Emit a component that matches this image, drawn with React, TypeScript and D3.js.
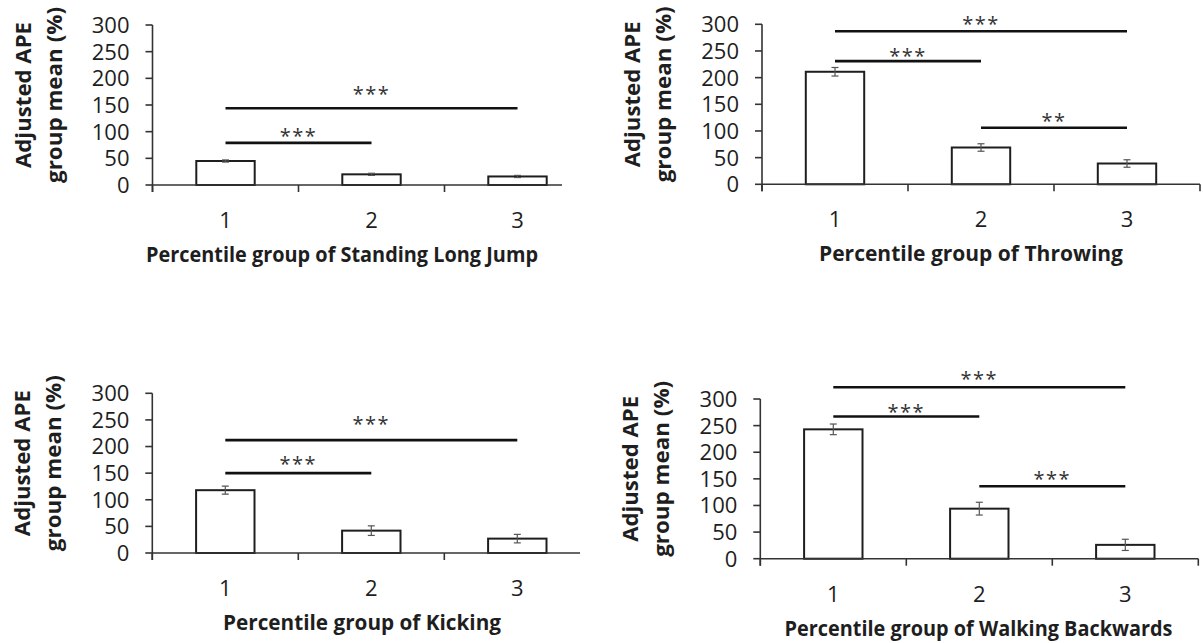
import React from "react"
import * as d3 from "d3"

const groups = ["1", "2", "3"]
const yTicks = [0, 50, 100, 150, 200, 250, 300]

const jumpMeans = [45, 20, 16]
const jumpErrors = [2, 2, 2]
const throwMeans = [211, 69, 39]
const throwErrors = [8, 7, 7]
const kickMeans = [118, 42, 27]
const kickErrors = [7.5, 9, 8]
const walkMeans = [243, 94, 26]
const walkErrors = [10, 12, 10.5]

// brackets: from / to group, level of the line and of its stars (in %)
const jumpSig = [
  { from: "1", to: "2", at: 79, labelAt: 99, stars: "***" },
  { from: "1", to: "3", at: 144, labelAt: 178, stars: "***" },
]
const throwSig = [
  { from: "1", to: "3", at: 287, labelAt: 309, stars: "***" },
  { from: "1", to: "2", at: 231, labelAt: 248, stars: "***" },
  { from: "2", to: "3", at: 106, labelAt: 126, stars: "**" },
]
const kickSig = [
  { from: "1", to: "3", at: 212, labelAt: 250, stars: "***" },
  { from: "1", to: "2", at: 150, labelAt: 174, stars: "***" },
]
const walkSig = [
  { from: "1", to: "3", at: 322, labelAt: 345, stars: "***" },
  { from: "1", to: "2", at: 267, labelAt: 283, stars: "***" },
  { from: "2", to: "3", at: 136, labelAt: 158, stars: "***" },
]

const FONT = "'Open Sans', 'DejaVu Sans', sans-serif"
const INK = "#1e1e1e"

const panels = [
  {
    title: "Percentile group of Standing Long Jump",
    means: jumpMeans, errors: jumpErrors, sig: jumpSig,
    x0: 152.5, yTop: 25, yBottom: 185, clipRight: 562,
    titleX: 342, titleW: 392,
  },
  {
    title: "Percentile group of Throwing",
    means: throwMeans, errors: throwErrors, sig: throwSig,
    x0: 762, yTop: 24.3, yBottom: 184.3, clipRight: 1203,
    titleX: 971, titleW: 304,
  },
  {
    title: "Percentile group of Kicking",
    means: kickMeans, errors: kickErrors, sig: kickSig,
    x0: 152.3, yTop: 393.3, yBottom: 553, clipRight: 580,
    titleX: 362, titleW: 278,
  },
  {
    title: "Percentile group of Walking Backwards",
    means: walkMeans, errors: walkErrors, sig: walkSig,
    x0: 760.3, yTop: 399, yBottom: 558.7, clipRight: 1203,
    titleX: 978.5, titleW: 388,
  },
]

const PLOT_W = 438

const Panel = ({ p, idx }) => {
  const x = d3
    .scaleBand()
    .domain(groups)
    .range([p.x0, p.x0 + PLOT_W])
    .paddingInner(0.6)
    .paddingOuter(0.3)
  const y = d3.scaleLinear().domain([0, 300]).range([p.yBottom, p.yTop])
  const center = (g) => x(g) + x.bandwidth() / 2
  const gap = (x.step() - x.bandwidth()) / 2
  const bounds = groups.map((g) => x(g) - gap).concat([p.x0 + PLOT_W])
  const midY = (p.yTop + p.yBottom) / 2 - 10
  const clipId = `clip-${idx}`

  return (
    <g>
      <clipPath id={clipId}>
        <rect x={0} y={p.yTop - 40} width={p.clipRight} height={300} />
      </clipPath>

      {/* y title, two lines */}
      <g transform={`translate(${p.x0 - 122},${midY}) rotate(-90)`}>
        <text
          textAnchor="middle"
          fontFamily={FONT}
          fontWeight="bold"
          fontSize={20.5}
          fill={INK}
          textLength={146}
          lengthAdjust="spacingAndGlyphs"
        >
          Adjusted APE
        </text>
      </g>
      <g transform={`translate(${p.x0 - 91},${midY}) rotate(-90)`}>
        <text
          textAnchor="middle"
          fontFamily={FONT}
          fontWeight="bold"
          fontSize={20.5}
          fill={INK}
          textLength={176}
          lengthAdjust="spacingAndGlyphs"
        >
          group mean (%)
        </text>
      </g>

      {/* y axis */}
      <line x1={p.x0} x2={p.x0} y1={p.yTop} y2={p.yBottom + 7} stroke="#333" strokeWidth={1.6} />
      {yTicks.map((t) => (
        <g key={t}>
          <line x1={p.x0 - 7} x2={p.x0} y1={y(t)} y2={y(t)} stroke="#333" strokeWidth={1.6} />
          <text
            x={p.x0 - 23}
            y={y(t)}
            dy="0.36em"
            textAnchor="end"
            fontFamily={FONT}
            fontSize={22}
            fill={INK}
          >
            {t}
          </text>
        </g>
      ))}

      <g clipPath={`url(#${clipId})`}>
        {/* bars */}
        {groups.map((g, i) => (
          <rect
            key={g}
            x={x(g)}
            y={y(p.means[i])}
            width={x.bandwidth()}
            height={y(0) - y(p.means[i])}
            fill="#fff"
            stroke={INK}
            strokeWidth={2}
          />
        ))}
        {/* error bars */}
        {groups.map((g, i) => {
          const cx = center(g)
          const hi = y(p.means[i] + p.errors[i])
          const lo = y(p.means[i] - p.errors[i])
          return (
            <g key={g} stroke="#555" strokeWidth={1.2}>
              <line x1={cx} x2={cx} y1={hi} y2={lo} />
              <line x1={cx - 3.5} x2={cx + 3.5} y1={hi} y2={hi} />
              <line x1={cx - 3.5} x2={cx + 3.5} y1={lo} y2={lo} />
            </g>
          )
        })}
        {/* x axis */}
        <line x1={p.x0} x2={p.x0 + PLOT_W} y1={p.yBottom} y2={p.yBottom} stroke="#333" strokeWidth={1.6} />
        {bounds.map((b, i) => (
          <line key={i} x1={b} x2={b} y1={p.yBottom} y2={p.yBottom + 7} stroke="#333" strokeWidth={1.6} />
        ))}
      </g>

      {groups.map((g) => (
        <text
          key={g}
          x={center(g)}
          y={p.yBottom + 43}
          textAnchor="middle"
          fontFamily={FONT}
          fontSize={22}
          fill={INK}
        >
          {g}
        </text>
      ))}

      {/* significance brackets */}
      {p.sig.map((s, i) => {
        const a = center(s.from)
        const b = center(s.to)
        return (
          <g key={i}>
            <line x1={a} x2={b} y1={y(s.at)} y2={y(s.at)} stroke="#111" strokeWidth={2.6} />
            <text
              x={(a + b) / 2}
              y={y(s.labelAt) + 11}
              textAnchor="middle"
              fontFamily={FONT}
              fontSize={20}
              letterSpacing={1.5}
              fill="#333"
            >
              {s.stars}
            </text>
          </g>
        )
      })}

      <text
        x={p.titleX}
        y={p.yBottom + 77}
        textAnchor="middle"
        fontFamily={FONT}
        fontWeight="bold"
        fontSize={21}
        fill={INK}
        textLength={p.titleW}
        lengthAdjust="spacingAndGlyphs"
      >
        {p.title}
      </text>
    </g>
  )
}

export default function App() {
  return (
    <svg
      width={1203}
      height={643}
      style={{ position: "absolute", left: 0, top: 0, background: "#fff" }}
    >
      <rect width={1203} height={643} fill="#fff" />
      {panels.map((p, i) => (
        <Panel key={i} p={p} idx={i} />
      ))}
    </svg>
  )
}
